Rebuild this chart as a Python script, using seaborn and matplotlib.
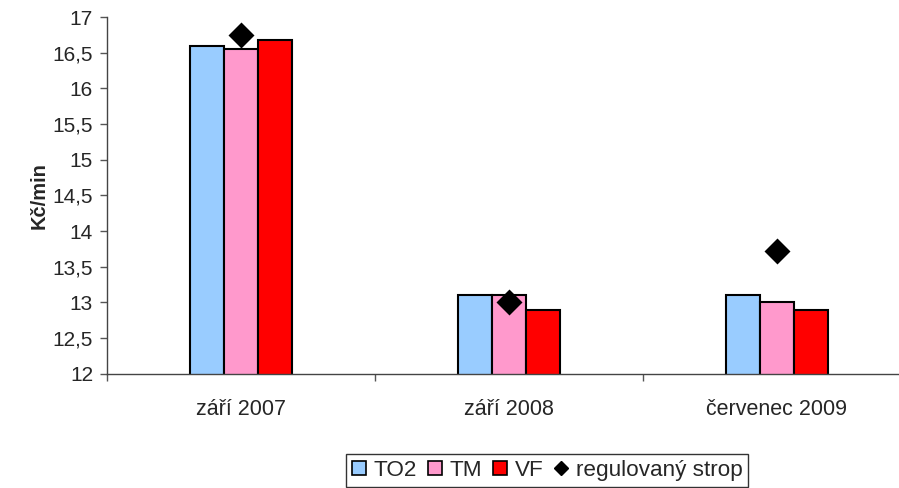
import pandas as pd
import matplotlib.pyplot as plt
import seaborn as sns
from matplotlib.patches import Patch
from matplotlib.lines import Line2D
from matplotlib.ticker import FuncFormatter, FixedLocator

# values (Kč/min)
periods = ['září 2007', 'září 2008', 'červenec 2009']
operators = ['TO2', 'TM', 'VF']
to2 = [16.6, 13.1, 13.1]
tm = [16.55, 13.1, 13.0]
vf = [16.68, 12.9, 12.9]
strop = [16.75, 13.0, 13.72]
colors = ['#99CCFF', '#FF99CC', '#FF0000']

sns.set_theme(style="white")
plt.rcParams['font.family'] = ['Liberation Sans', 'DejaVu Sans']

rows = []
for name, vals in zip(operators, [to2, tm, vf]):
    for p, v in zip(periods, vals):
        rows.append({'obdobi': p, 'operator': name, 'cena': v})
data = pd.DataFrame(rows)

fig = plt.figure(figsize=(8.99, 4.88), dpi=100)
ax = fig.add_axes([0.119, 0.234, 0.894, 0.731])

sns.barplot(data=data, x='obdobi', y='cena', hue='operator', order=periods,
            hue_order=operators, palette=colors, width=0.38, gap=0,
            edgecolor='black', linewidth=1.5, saturation=1, legend=False, ax=ax)

sns.pointplot(x=periods, y=strop, order=periods, linestyle='none', markers='D',
              color='black', markersize=11, ax=ax)

ax.set_ylim(12, 17)
ax.set_xlim(-0.5, 2.5)
ax.yaxis.set_major_locator(FixedLocator([12 + 0.5 * i for i in range(11)]))
ax.yaxis.set_major_formatter(FuncFormatter(lambda v, p: f'{v:g}'.replace('.', ',')))
ax.tick_params(axis='y', which='major', direction='out', length=5, width=1,
               color='#555555', labelsize=15, pad=5, left=True)
ax.set_xticks(range(3))
ax.set_xticklabels(periods)
ax.tick_params(axis='x', which='major', length=0, labelsize=15.5, pad=18)
ax.xaxis.set_minor_locator(FixedLocator([-0.5, 0.5, 1.5, 2.5]))
ax.tick_params(axis='x', which='minor', direction='out', length=5, width=1,
               color='#555555', bottom=True)

for side in ['top', 'right']:
    ax.spines[side].set_visible(False)
for side in ['left', 'bottom']:
    ax.spines[side].set_color('#444444')
    ax.spines[side].set_linewidth(1)

ax.set_xlabel('')
ax.set_ylabel('Kč/min', fontsize=14.5, fontweight='bold', labelpad=3)

handles = [Patch(facecolor=c, edgecolor='black', linewidth=1.2) for c in colors]
handles.append(Line2D([], [], linestyle='none', marker='D', color='black', markersize=7))
leg = fig.legend(handles, operators + ['regulovaný strop'], loc='center',
                 bbox_to_anchor=(0.609, 0.036), ncol=4, fontsize=16.2, frameon=True,
                 fancybox=False, edgecolor='black', handlelength=0.6, handleheight=0.6,
                 handletextpad=0.35, columnspacing=0.5, borderpad=0.25,
                 borderaxespad=0)
leg.get_frame().set_linewidth(1)

fig.savefig('out.png', dpi=100)
